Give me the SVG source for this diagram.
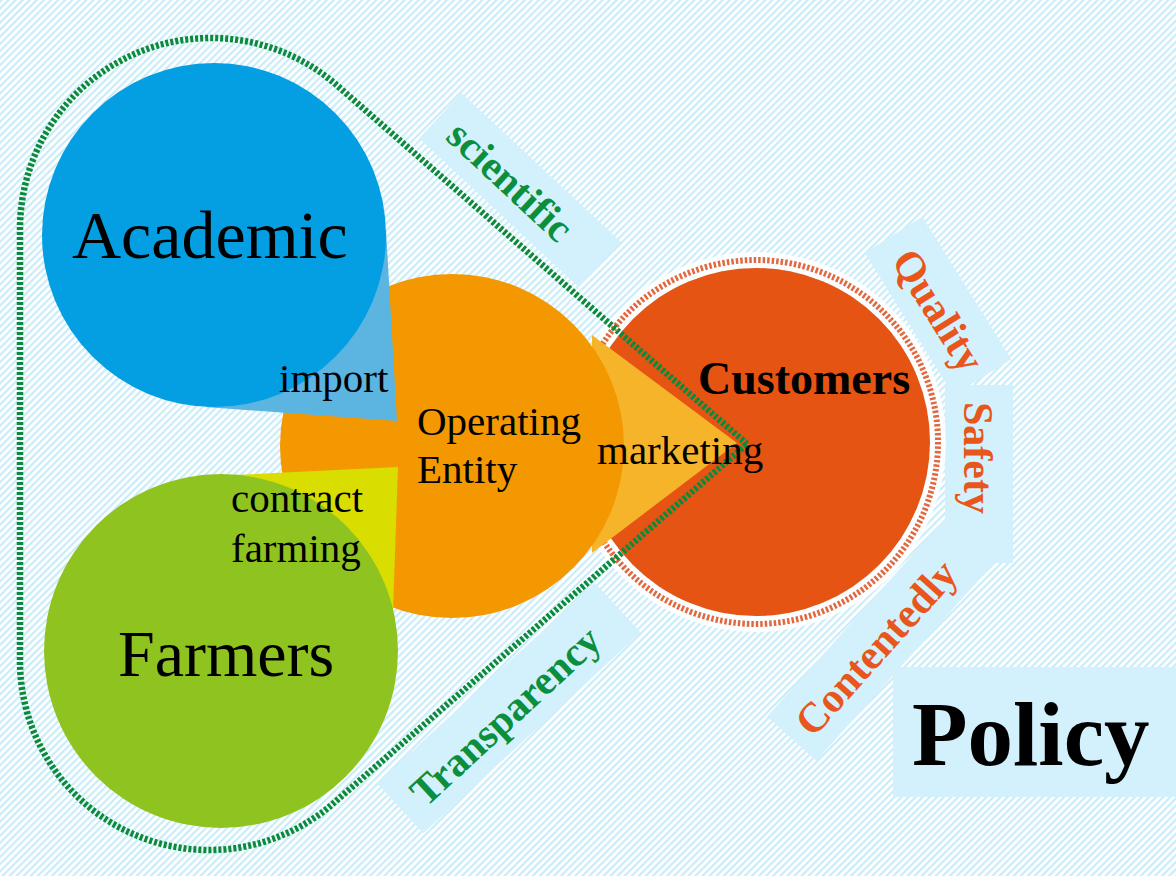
<svg xmlns="http://www.w3.org/2000/svg" width="1176" height="876" viewBox="0 0 1176 876">
<defs>
<pattern id="hatch" patternUnits="userSpaceOnUse" width="5" height="5" patternTransform="rotate(45)">
<rect width="5" height="5" fill="#ffffff"/>
<rect width="2.2" height="5" fill="#c9ecf9"/>
</pattern>
<style>
text{font-family:"Liberation Serif","Times New Roman",serif;fill:#000;}
.lbl{fill:#d3f1fc;}
.g{fill:#0b8f3d;font-weight:bold;font-size:41px;}
.o{fill:#e8561c;font-weight:bold;font-size:42px;}
.big{font-size:66px;}
.mid{font-size:41px;}
.bound{fill:none;stroke:#0a8a3a;stroke-width:6.5;stroke-dasharray:3 2;}
</style>
</defs>
<rect width="1176" height="876" fill="url(#hatch)"/>

<g id="label-scientific" transform="translate(520,190) rotate(43)">
<rect class="lbl" x="-109" y="-31" width="218" height="62"/>
<text class="g" x="-13" y="14" text-anchor="middle">scientific</text>
</g>
<g id="label-transparency" transform="translate(509,708) rotate(-42.7)">
<rect class="lbl" x="-148" y="-34" width="296" height="68"/>
<text class="g" x="-8" y="17" text-anchor="middle">Transparency</text>
</g>
<g id="label-quality" transform="translate(938,306) rotate(58)">
<rect class="lbl" x="-84" y="-34" width="168" height="68"/>
<text class="o" x="4" y="16" text-anchor="middle">Quality</text>
</g>
<g id="label-safety">
<rect class="lbl" x="945" y="385" width="68" height="178"/>
<text class="o" transform="translate(964,458) rotate(90)" text-anchor="middle">Safety</text>
</g>
<g id="label-contentedly" transform="translate(884,636) rotate(-48)">
<rect class="lbl" x="-138" y="-33" width="276" height="66"/>
<text class="o" x="-14" y="16" text-anchor="middle">Contentedly</text>
</g>
<g id="label-policy">
<rect class="lbl" x="893" y="667" width="283" height="130"/>
<text x="912" y="765" font-size="91" font-weight="bold">Policy</text>
</g>

<g id="customers">
<circle cx="756" cy="442" r="182" fill="none" stroke="#ffffff" stroke-opacity="0.85" stroke-width="16"/>
<circle cx="756" cy="442" r="174" fill="#e65413"/>
<circle cx="756" cy="442" r="182" fill="none" stroke="#e2693f" stroke-width="6" stroke-dasharray="2.5 2"/>
</g>

<g id="operating-entity">
<polygon points="592,335 737,443 592,553" fill="#f6b42a"/>
<circle cx="452" cy="446" r="172" fill="#f39800"/>
</g>

<g id="academic">
<polygon points="386,230 397,421 205,407" fill="#5cb4e0"/>
<circle cx="214" cy="235" r="172" fill="#049fe3"/>
<text x="72" y="258" font-size="68">Academic</text>
</g>

<g id="farmers">
<polygon points="398,467 393,610 215,476" fill="#d9de00"/>
<circle cx="221" cy="651" r="177" fill="#8fc31f"/>
<text class="big" x="118" y="676">Farmers</text>
</g>

<g id="connectors">
<path class="bound" d="M747 444 L336.4 84.9 A191 191 0 0 0 20 229 L20 661 A189 189 0 0 0 332.1 804.4 Z"/>
</g>

<g id="texts">
<text class="mid" x="279" y="392">import</text>
<text class="mid" x="417" y="435">Operating</text>
<text class="mid" x="417" y="483">Entity</text>
<text class="mid" x="231" y="512">contract</text>
<text class="mid" x="231" y="562">farming</text>
<text class="mid" x="597" y="464">marketing</text>
<text x="698" y="394" font-size="46" font-weight="bold">Customers</text>
</g>
</svg>
